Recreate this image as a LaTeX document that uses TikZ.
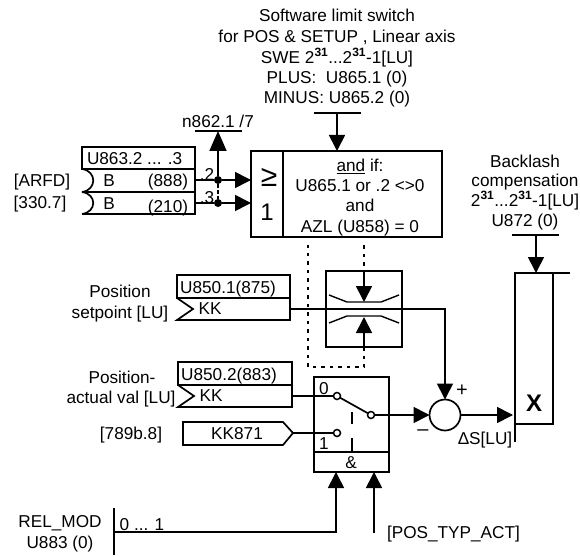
\documentclass[tikz,border=0pt]{standalone}
\usepackage{fontspec}
\setmainfont{Liberation Sans}
\usetikzlibrary{arrows.meta,calc}
\tikzset{
  wire/.style={line width=1.7pt},
  arr/.style={line width=1.7pt,-{Triangle[length=16pt,width=16pt]}},
  dots/.style={line width=1.7pt,dash pattern=on 3.5pt off 5pt},
  lab/.style={inner sep=0pt,outer sep=0pt,text height=12.3pt,text depth=0pt,font=\fontsize{17.2}{20}\selectfont},
  boxn/.style={draw,line width=1.7pt,inner sep=0pt,outer sep=0pt,anchor=north west},
  ocirc/.style={draw,circle,fill=white,line width=1.5pt,minimum size=7pt,inner sep=0pt,outer sep=0pt},
  fdot/.style={fill,circle,minimum size=8pt,inner sep=0pt,outer sep=0pt}
}
\newcommand{\sq}{\textsuperscript{\textbf{31}}}
\begin{document}
\begin{tikzpicture}[x=1pt,y=-1pt]
\useasboundingbox (0,0) rectangle (580,556);
% top text
\node[lab] (t1) at (337,15) {Software limit switch};
\node[lab] (t2) at (337,36) {for POS \& SETUP , Linear axis};
\node[lab] (t3) at (337,57) {SWE 2\sq...2\sq-1[LU]};
\node[lab] (t4) at (337,77) {PLUS:\ \ U865.1 (0)};
\node[lab] (t5) at (337,97) {MINUS:\ U865.2 (0)};
\coordinate (topL) at (314,113); \coordinate (topR) at (361,113); \coordinate (topM) at (337,113);
\draw[wire] (topL) -- (topR);
% OR box
\node[boxn,minimum width=191pt,minimum height=86pt] (orbox) at (251,151) {};
\coordinate (divT) at (283,151); \coordinate (divB) at (283,237);
\draw[wire] (divT) -- (divB);
\draw[arr] (topM) -- (topM |- orbox.north);
\node[lab,font=\fontsize{30}{30}\selectfont,text height=22pt] (ge) at (269,175) {≥};
\node[lab,font=\fontsize{24}{24}\selectfont,text height=17pt] (one) at (267,212) {1};
\node[lab] (c1) at (360,165) {\underline{and} if:};
\node[lab] (c2) at (360,185) {U865.1 or .2 <>0};
\node[lab] (c3) at (360,205) {and};
\node[lab] (c4) at (360,226) {AZL (U858) = 0};
% U863
\node[boxn,minimum width=113pt,minimum height=22pt] (u863) at (82,147) {};
\node[lab,anchor=west] (u863t) at (87,158) {U863.2 ... .3};
\coordinate (r1) at (195,180); \coordinate (r2) at (195,203);
\draw[wire] (82,192) -- (195,192);
\draw[wire] (u863.south east) -- (195,214) -- (82,214);
\draw[wire] (82,169) .. controls (97,171) and (97,190) .. (82,192);
\draw[wire] (82,192) .. controls (97,194) and (97,212) .. (82,214);
\node[lab] (b1) at (109,180) {B};
\node[lab] (b2) at (109,203) {B};
\node[lab] (v1) at (168,180) {(888)};
\node[lab] (v2) at (168,206) {(210)};
\node[lab] (arfd) at (42,180) {[ARFD]};
\node[lab] (p330) at (40,202) {[330.7]};
\node[lab] (d2) at (207,174) {.2};
\node[lab] (d3) at (207,197) {.3};
\node[fdot] (j1) at (218,180) {};
\node[fdot] (j2) at (218,203) {};
\draw[arr] (r1) -- (j1) -- (j1 -| orbox.west);
\draw[arr] (r2) -- (j2) -- (j2 -| orbox.west);
\draw[line width=1.2pt,dash pattern=on 4pt off 2pt] (j1) -- (j2);
\coordinate (nbarL) at (195,131); \coordinate (nbarR) at (242,131); \coordinate (nbarM) at (218,131);
\draw[wire] (nbarL) -- (nbarR);
\draw[line width=1.7pt,-{Triangle[length=20pt,width=17pt]}] (j1) -- (nbarM);
\node[lab] (n862) at (218,121) {n862.1 /7};
% limiter
\node[boxn,minimum width=76pt,minimum height=76pt] (lim) at (326,271) {};
\draw[line width=1.4pt] (329,295) -- (347,302) -- (381,302) -- (399,295);
\draw[line width=1.4pt] (329,323) -- (347,316) -- (381,316) -- (399,323);
\coordinate (limT) at (364,302); \coordinate (limB) at (364,317);
\draw[arr] (lim.north) -- (limT);
\draw[arr] (lim.south) -- (limB);
\coordinate (dotA) at (364,245); \coordinate (dotB) at (308,245);
\draw[dots] (dotA) -- (lim.north);
\draw[dots] (lim.south) -- (364,367) -- (308,367) -- (dotB);
% U850.1
\node[boxn,minimum width=113pt,minimum height=23pt] (u1) at (177,275) {};
\draw[wire] (u1.south east) -- (290,320) -- (177,320) -- (193,309) -- (177,298);
\node[lab] (u1t) at (228,287) {U850.1(875)};
\node[lab] (u1k) at (210,308) {KK};
\node[lab] (s1) at (120,291) {Position};
\node[lab] (s2) at (120,312) {setpoint [LU]};
\coordinate (u1o) at (290,309);
% U850.2
\node[boxn,minimum width=114pt,minimum height=23pt] (u2) at (178,362) {};
\draw[wire] (u2.south east) -- (292,407) -- (178,407) -- (194,396) -- (178,385);
\node[lab] (u2t) at (229,374) {U850.2(883)};
\node[lab] (u2k) at (211,395) {KK};
\node[lab] (s3) at (122,377) {Position-};
\node[lab] (s4) at (121,397) {actual val [LU]};
\coordinate (u2o) at (292,396);
% sum
\node[draw,circle,line width=1.7pt,minimum size=31pt,inner sep=0pt,outer sep=0pt] (sum) at (445,415) {};
\coordinate (bend) at (445,309);
\draw[arr] (u1o) -- (bend) -- (sum.north);
\node[lab,font=\fontsize{20}{20}\selectfont,text height=10pt] (plus) at (462,391) {+};
\node[lab,font=\fontsize{20}{20}\selectfont,text height=2pt] (minus) at (423,434) {--};
\node[lab] (ds) at (485,438) {Δ\kern0ptS[LU]};
% switch box
\node[boxn,minimum width=75pt,minimum height=95pt] (sw) at (314,377) {};
\coordinate (swL) at (314,452); \coordinate (swR) at (389,452);
\draw[wire] (swL) -- (swR);
\node[lab] (and) at (351,462) {\&};
\node[lab] (s0) at (324,388) {0};
\node[lab] (s1t) at (324,443) {1};
\node[ocirc] (sw0) at (337,396) {};
\node[ocirc] (sw1) at (337,433) {};
\node[ocirc] (swo) at (371,415) {};
\draw[wire] (u2o) -- (sw0);
\draw[wire] (sw0) -- (swo);
\draw[arr] (swo) -- (sum.west);
\draw[wire] (352,412) -- (352,424) (352,438) -- (352,452);
% KK871
\node[lab] (kk) at (237,433) {KK871};
\draw[wire] (183,422) -- (283,422) -- (293,433) -- (283,445) -- (183,445) -- cycle;
\coordinate (kko) at (293,433);
\draw[wire] (kko) -- (sw1);
\node[lab] (p789) at (131,433) {[789b.8]};
% output block
\coordinate (xTL) at (515,273); \coordinate (xTR) at (570,273); \coordinate (xBL) at (515,442);
\coordinate (xin) at (513,415);
\draw[wire] (xTR) -- (xTL) -- (xBL);
\draw[wire] (553,273) -- (553,424) -- (515,424);
\node[lab,font=\fontsize{24}{24}\selectfont\bfseries,text height=17pt] (xl) at (534,403) {X};
\draw[arr] (sum.east) -- (xin);
\coordinate (bbL) at (512,235); \coordinate (bbR) at (559,235); \coordinate (bbM) at (536,235); \coordinate (bbT) at (536,273);
\draw[wire] (bbL) -- (bbR);
\draw[arr] (bbM) -- (bbT);
\node[lab] (k1) at (525,161) {Backlash};
\node[lab] (k2) at (525,180) {compensation};
\node[lab] (k3) at (525,200) {2\sq...2\sq-1[LU]};
\node[lab] (k4) at (525,220) {U872 (0)};
% bottom
\coordinate (rbT) at (114,508); \coordinate (rbB) at (114,555); \coordinate (rb) at (114,532);
\draw[wire] (rbT) -- (rbB);
\coordinate (corner) at (336,532);
\draw[arr] (rb) -- (corner) -- (corner |- sw.south);
\coordinate (pf) at (374,533);
\draw[arr] (pf) -- (pf |- sw.south);
\node[lab] (rng) at (142,524) {0 ... 1};
\node[lab] (r1t) at (60,521) {REL\_MOD};
\node[lab] (r2t) at (60,542) {U883 (0)};
\node[lab,anchor=west] (pos) at (387,532) {[POS\_TYP\_ACT]};
\end{tikzpicture}
\end{document}
